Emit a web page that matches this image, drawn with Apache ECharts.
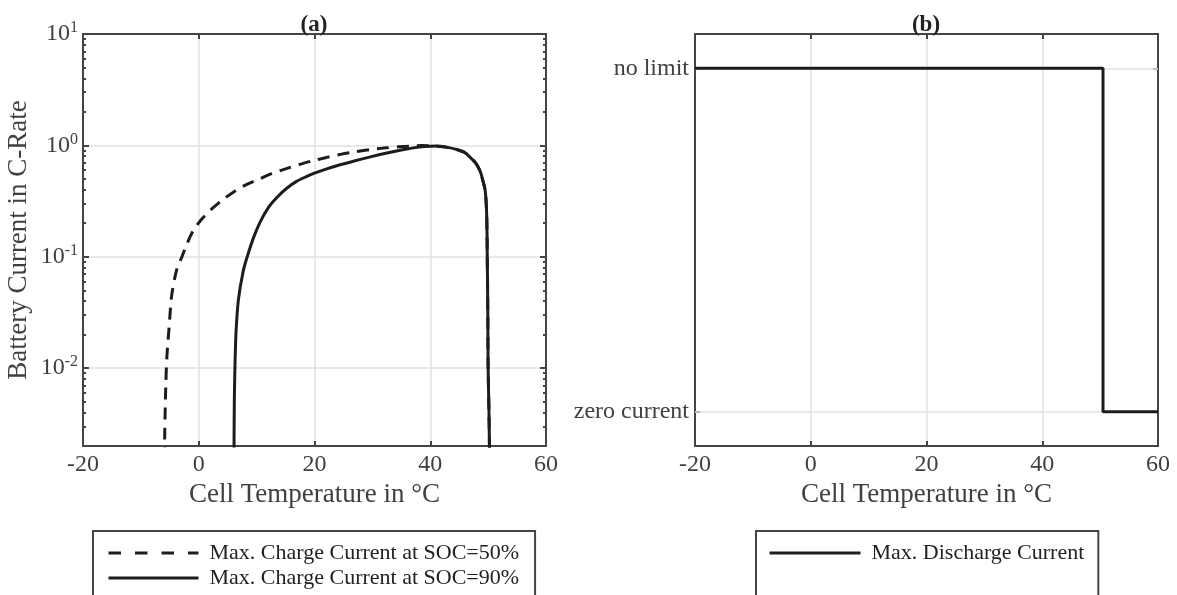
<!DOCTYPE html>
<html><head><meta charset="utf-8">
<script src="https://cdn.jsdelivr.net/npm/echarts@6/dist/echarts.min.js"></script>
<style>html,body{margin:0;padding:0;background:#fff}#c{width:1177px;height:595px}</style>
</head><body><div id="c"></div>
<script>
// ---- data ----
const X_MIN = -20, X_MAX = 60, X_STEP = 20;
const Y_LOG_MIN = 0.002, Y_LOG_MAX = 10;
const SERIES_NAMES = ['Max. Charge Current at SOC=50%', 'Max. Charge Current at SOC=90%', 'Max. Discharge Current'];
const SOC50_T = [-5.95, -5.88, -5.7, -5.5, -5.1, -4.67, -3.8, -2.9, -2.08, -1.0, 0.5, 2.3, 4.24, 6.3, 8.3, 10.5, 12.6, 15, 17.5, 20, 22.1, 24.5, 26.7, 29.5, 31.9, 34.5, 36.5, 38.5, 41, 43, 44.5, 46, 46.9, 47.8, 48.6, 49.1, 49.5, 49.75, 49.85, 49.95, 50.0, 50.15, 50.3];
const SOC50_V = [0.001, 0.0025, 0.0069, 0.0128, 0.024, 0.045, 0.077, 0.1, 0.129, 0.17, 0.217, 0.27, 0.328, 0.39, 0.447, 0.50, 0.557, 0.615, 0.675, 0.735, 0.78, 0.83, 0.87, 0.915, 0.945, 0.97, 0.985, 0.995, 0.985, 0.96, 0.92, 0.86, 0.78, 0.70, 0.59, 0.48, 0.39, 0.24, 0.1, 0.03, 0.01, 0.004, 0.001];
const SOC90_T = [6.08, 6.1, 6.15, 6.26, 6.44, 6.85, 7.7, 8.5, 9.5, 10.6, 12, 13.5, 15.2, 16.9, 18.5, 20, 22, 24, 26.7, 29.5, 32.5, 35, 37.1, 39, 41, 43, 44.5, 46, 46.9, 47.8, 48.6, 49.1, 49.5, 49.75, 49.85, 49.95, 50.0, 50.15, 50.3];
const SOC90_V = [0.001, 0.0022, 0.0052, 0.0105, 0.021, 0.041, 0.075, 0.105, 0.15, 0.205, 0.275, 0.34, 0.412, 0.475, 0.522, 0.563, 0.613, 0.66, 0.72, 0.785, 0.855, 0.91, 0.95, 0.975, 0.985, 0.96, 0.92, 0.86, 0.78, 0.70, 0.59, 0.48, 0.39, 0.24, 0.1, 0.03, 0.01, 0.004, 0.001];
const DIS_T = [-20, 50.5, 50.5, 60];
const DIS_LEVEL = [1, 1, 0, 0];
const LEVEL_VALUES = [0, 1];
const LEVEL_LABELS = ['zero current', 'no limit'];
const TITLES = ['(a)', '(b)'];
const X_NAME = 'Cell Temperature in \u00B0C';
const Y_NAME = 'Battery Current in C-Rate';

// ---- helpers ----
const zip = (a, b) => a.map((v, i) => [v, b[i]]);
const MINOR_TICKS = [];
for (let e = Math.floor(Math.log10(Y_LOG_MIN)); e < Math.log10(Y_LOG_MAX); e++) {
  for (let m = 2; m <= 9; m++) {
    const v = +(m * Math.pow(10, e)).toPrecision(6);
    if (v >= Y_LOG_MIN && v <= Y_LOG_MAX) MINOR_TICKS.push(v);
  }
}
const FONT = 'Liberation Serif';
const AX = '#444444', GRID = '#e2e2e2', TXT = '#404040', LINE = '#1c1c1c';
const DASH = [12, 8], LEGEND_DASH = [12.5, 14];

const axLine = { show: true, onZero: false, lineStyle: { color: AX, width: 2 } };
const tickIn = (len) => ({ show: true, inside: true, length: len, lineStyle: { color: AX, width: 2 } });
const labelStyle = { fontSize: 24, color: TXT, fontFamily: FONT };
const nameStyle = { fontSize: 27, color: TXT, fontFamily: FONT };

function xAxes(grid) {
  return [
    { gridIndex: grid, type: 'value', position: 'bottom', min: X_MIN, max: X_MAX, interval: X_STEP,
      axisLine: axLine, axisTick: tickIn(5), axisLabel: Object.assign({ margin: 7 }, labelStyle),
      splitLine: { show: true, lineStyle: { color: GRID, width: 1.5 } },
      name: X_NAME, nameLocation: 'middle', nameGap: 35, nameTextStyle: nameStyle },
    { gridIndex: grid, type: 'value', position: 'top', min: X_MIN, max: X_MAX, interval: X_STEP,
      axisLine: axLine, axisTick: tickIn(5), axisLabel: { show: false }, splitLine: { show: false } }
  ];
}

const logFmt = (v) => {
  const e = Math.log10(v), r = Math.round(e);
  if (Math.abs(e - r) > 1e-6) return '';
  return '{b|10}{s|' + r + '}';
};

const legendText = { fontSize: 22, fontFamily: FONT, color: '#222', padding: [0, 0, 0, 6] };
const legendCommon = { orient: 'vertical', top: 531, height: 150, itemGap: 3, itemHeight: 14,
  borderColor: AX, borderWidth: 2, itemStyle: { opacity: 0, borderWidth: 0 },
  lineStyle: { width: 3, color: LINE }, textStyle: legendText };

const option = {
  animation: false,
  backgroundColor: '#ffffff',
  title: TITLES.map((t, i) => ({
    text: t, left: i === 0 ? 309 : 921, top: 9, textAlign: 'center',
    textStyle: { fontSize: 23, fontWeight: 'bold', fontFamily: FONT, color: '#222' }
  })),
  grid: [
    { left: 83, top: 34, width: 463, height: 412 },
    { left: 695, top: 34, width: 463, height: 412 }
  ],
  legend: [
    Object.assign({ data: [
        { name: SERIES_NAMES[0], lineStyle: { width: 3, color: LINE, type: LEGEND_DASH } },
        { name: SERIES_NAMES[1], lineStyle: { width: 3, color: LINE, type: 'solid' } }
      ], left: 93, itemWidth: 90, padding: [11, 16, 40, 14] }, legendCommon),
    Object.assign({ data: [
        { name: SERIES_NAMES[2], lineStyle: { width: 3, color: LINE, type: 'solid' } }
      ], left: 756, itemWidth: 91, padding: [11, 14, 40, 12] }, legendCommon)
  ],
  xAxis: xAxes(0).concat(xAxes(1)),
  yAxis: [
    { gridIndex: 0, type: 'log', logBase: 10, position: 'left', min: Y_LOG_MIN, max: Y_LOG_MAX,
      axisLine: axLine, axisTick: tickIn(6),
      axisLabel: { margin: 5, formatter: logFmt,
        rich: { b: { fontSize: 24, color: TXT, fontFamily: FONT },
                s: { fontSize: 16, color: TXT, fontFamily: FONT, verticalAlign: 'top', padding: [0, 0, 12, 0] } } },
      splitLine: { show: true, lineStyle: { color: GRID, width: 1.5 } },
      name: Y_NAME, nameLocation: 'middle', nameGap: 51, nameTextStyle: nameStyle },
    { gridIndex: 0, type: 'log', logBase: 10, position: 'right', min: Y_LOG_MIN, max: Y_LOG_MAX,
      axisLine: axLine, axisTick: tickIn(6), axisLabel: { show: false }, splitLine: { show: false } },
    { gridIndex: 0, type: 'log', logBase: 10, position: 'left', min: Y_LOG_MIN, max: Y_LOG_MAX,
      axisLine: { show: false, onZero: false }, axisLabel: { show: false }, splitLine: { show: false },
      axisTick: Object.assign(tickIn(3), { customValues: MINOR_TICKS }) },
    { gridIndex: 0, type: 'log', logBase: 10, position: 'right', min: Y_LOG_MIN, max: Y_LOG_MAX,
      axisLine: { show: false, onZero: false }, axisLabel: { show: false }, splitLine: { show: false },
      axisTick: Object.assign(tickIn(3), { customValues: MINOR_TICKS }) },
    { gridIndex: 1, type: 'value', position: 'left', min: -0.1, max: 1.1,
      axisLine: axLine, axisTick: Object.assign(tickIn(5), { customValues: LEVEL_VALUES }),
      axisLabel: Object.assign({ margin: 6, customValues: LEVEL_VALUES,
        formatter: (v) => { const i = LEVEL_VALUES.indexOf(v); return i >= 0 ? LEVEL_LABELS[i] : ''; } }, labelStyle),
      splitLine: { show: false } },
    { gridIndex: 1, type: 'value', position: 'right', min: -0.1, max: 1.1,
      axisLine: axLine, axisTick: Object.assign(tickIn(5), { customValues: LEVEL_VALUES }),
      axisLabel: { show: false }, splitLine: { show: false } }
  ],
  series: [
    { name: '_grid', type: 'line', xAxisIndex: 2, yAxisIndex: 4, data: [], z: 1, silent: true,
      markLine: { silent: true, symbol: 'none', label: { show: false }, animation: false, z: 1,
        lineStyle: { color: GRID, width: 1.5, type: 'solid' },
        data: LEVEL_VALUES.map(v => ({ yAxis: v })) } },
    { name: SERIES_NAMES[0], type: 'line', xAxisIndex: 0, yAxisIndex: 0, data: zip(SOC50_T, SOC50_V),
      symbol: 'none', showSymbol: false, z: 3, color: LINE, smooth: 0.3,
      lineStyle: { color: LINE, width: 3, type: DASH } },
    { name: SERIES_NAMES[1], type: 'line', xAxisIndex: 0, yAxisIndex: 0, data: zip(SOC90_T, SOC90_V),
      symbol: 'none', showSymbol: false, z: 4, color: LINE, smooth: 0.3,
      lineStyle: { color: LINE, width: 3, type: 'solid' } },
    { name: SERIES_NAMES[2], type: 'line', xAxisIndex: 2, yAxisIndex: 4, data: zip(DIS_T, DIS_LEVEL),
      symbol: 'none', showSymbol: false, z: 4, color: LINE,
      lineStyle: { color: LINE, width: 3, type: 'solid' } }
  ]
};
const chart = echarts.init(document.getElementById('c'), null, { renderer: 'canvas' });
chart.setOption(option);
</script>
</body></html>
